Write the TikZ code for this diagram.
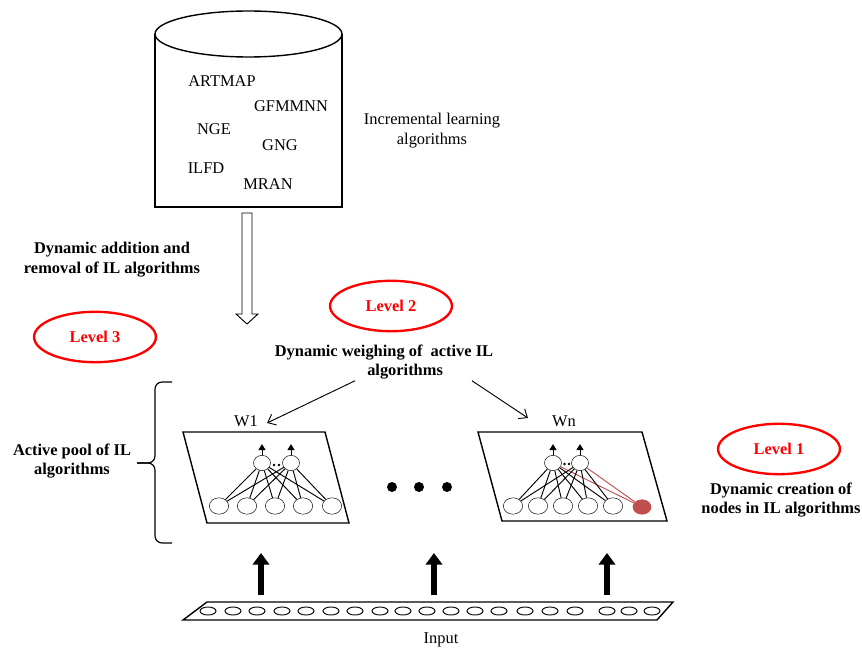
\documentclass[tikz,border=0pt]{standalone}
\usepackage{fontspec}
\setmainfont{Liberation Serif}
\usepackage{xcolor}
\usepackage{tikz}
\usetikzlibrary{positioning, arrows.meta, calc, shapes.geometric}

\definecolor{lvlred}{RGB}{255,0,0}
\definecolor{newnode}{RGB}{192,80,77}

\begin{document}
\begin{tikzpicture}[
    x=0.03cm, y=-0.03cm,
    font=\fontsize{14}{17}\selectfont,
    txt/.style={
      align=center,
      inner sep=0pt
    },
    boldtxt/.style={
      align=center,
      inner sep=0pt,
      font=\fontsize{14}{17}\selectfont\bfseries
    },
    level/.style={
      draw=lvlred,
      ellipse,
      line width=2pt,
      text=lvlred,
      minimum width=104pt,
      minimum height=43pt,
      font=\fontsize{14}{17}\selectfont\bfseries
    },
    neuron/.style={draw, ellipse, minimum width=16.5pt, minimum height=14pt, inner sep=0pt},
    outneuron/.style={draw, ellipse, minimum width=14.5pt, minimum height=13pt, inner sep=0pt},
    newneuron/.style={fill=newnode, ellipse, minimum width=16pt, minimum height=13pt, inner sep=0pt},
    link/.style={line width=0.8pt},
    newlink/.style={draw=newnode, line width=0.8pt},
    outarrow/.style={-{Triangle[width=6pt,length=5pt]}, line width=0.8pt},
    weigharrow/.style={-{Straight Barb[length=6pt,width=10pt]}, line width=0.8pt},
    feed/.style={-{Triangle[width=14pt,length=10pt]}, line width=5pt},
    outline/.style={line width=1.2pt}
  ]
  \useasboundingbox (0,0) rectangle (862,651);

  % algorithm store
  \draw[outline] (155,34) -- (155,207) -- (342,207) -- (342,34);
  \draw[outline] (248.5,34) ellipse [x radius=93.5, y radius=23];
  \node[txt] (artmap) at (222,81) {ARTMAP};
  \node[txt] (gfmmnn) at (291,106) {GFMMNN};
  \node[txt] (nge) at (214,129) {NGE};
  \node[txt] (gng) at (280,145) {GNG};
  \node[txt] (ilfd) at (206,168) {ILFD};
  \node[txt] (mran) at (268,184) {MRAN};
  \node[txt] (ilalgs) at (432,131) {Incremental learning\\algorithms};

  % hollow arrow into the pool
  \draw[line width=0.8pt] (242,213) -- (242,314) -- (236,314) -- (247,324)
    -- (258,314) -- (252,314) -- (252,213) -- cycle;
  \node[boldtxt] (addrem) at (112,260) {Dynamic addition and\\removal of IL algorithms};

  % levels
  \node[level] (lv3) at (95,337) {Level 3};
  \node[level] (lv2) at (391,306) {Level 2};
  \node[level] (lv1) at (779,449) {Level 1};

  \node[boldtxt] (weigh) at (384,362) {Dynamic weighing of\ \ active IL\\\hspace*{36pt}algorithms};
  \node[txt] (w1) at (246,421) {W1};
  \node[txt] (wn) at (564,421) {Wn};
  \draw[weigharrow] ($(weigh.south)+(-29,1)$) -- ($(w1.east)+(9,2)$);
  \draw[weigharrow] ($(weigh.south)+(88,1)$) -- ($(wn.west)+(-24,-3)$);

  % pool brace
  \draw[line width=1pt, rounded corners=6pt] (172,382) -- (155,382) -- (155,463) -- (137,463);
  \draw[line width=1pt, rounded corners=6pt] (172,543) -- (155,543) -- (155,463) -- (137,463);
  \node[boldtxt] (pool) at (72,461) {Active pool of IL\\algorithms};

  % first network
  \draw[outline] (183,432) -- (325,432) -- (349,523) -- (207,523) -- cycle;
  \foreach \i/\x in {1/219,2/247,3/275,4/303,5/332}
    \node[neuron] (l\i) at (\x,506) {};
  \node[outneuron] (lo1) at (262,463) {};
  \node[outneuron] (lo2) at (291,463) {};
  \foreach \o in {1,2} {
    \foreach \i in {1,...,5}
      \draw[link] (lo\o) -- (l\i);
    \draw[outarrow] (lo\o.north) -- ++(0,-11);
  }
  \fill (274,465) circle [radius=1.3];
  \fill (279,465) circle [radius=1.3];

  % dots between networks
  \foreach \x in {392,419,447}
    \fill (\x,487) circle [radius=5];

  % last network, with a new node
  \draw[outline] (478,432) -- (642,432) -- (667,521) -- (502,521) -- cycle;
  \foreach \i/\x in {1/513,2/538,3/563,4/588,5/613}
    \node[neuron] (r\i) at (\x,506) {};
  \node[newneuron] (rnew) at (642,507) {};
  \node[outneuron] (ro1) at (553,463) {};
  \node[outneuron] (ro2) at (580,463) {};
  \foreach \o in {1,2} {
    \foreach \i in {1,...,5}
      \draw[link] (ro\o) -- (r\i);
    \draw[newlink] (ro\o) -- (rnew);
    \draw[outarrow] (ro\o.north) -- ++(0,-11);
  }
  \fill (564.5,464) circle [radius=1.3];
  \fill (569,464) circle [radius=1.3];

  \node[boldtxt] (create) at (781,500) {Dynamic creation of\\nodes in IL algorithms};

  % input layer
  \foreach \x in {261,434,607}
    \draw[feed] (\x,595) -- (\x,553);
  \draw[outline] (207,602) -- (673,602) -- (657,620) -- (183,620) -- cycle;
  \foreach \x in {208,233,257,282,306,331,355,380,403,427,451,475,499,525,550,575,607,629,652}
    \draw[line width=0.8pt] (\x,611) ellipse [x radius=8, y radius=4];
  \node[txt] (input) at (441,640) {Input};
\end{tikzpicture}
\end{document}
